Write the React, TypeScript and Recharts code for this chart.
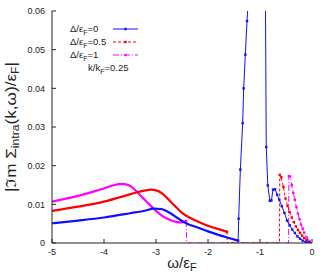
import React from "react"
import { LineChart, Line, XAxis, YAxis } from "recharts"

// x ticks / y ticks
const xTicks = [-5, -4, -3, -2, -1, 0]
const yTicks = [0, 0.01, 0.02, 0.03, 0.04, 0.05, 0.06]

// Δ/εF = 0 (blue)
const blueSmoothX = [-5, -4.5, -4, -3.5, -3.2, -3.05, -2.9, -2.8, -2.7, -2.6, -2.5, -2.4, -2.2, -2, -1.8, -1.6, -1.42]
const blueSmoothY = [0.0051, 0.0058, 0.0066, 0.0077, 0.0084, 0.0089, 0.0088, 0.0083, 0.0075, 0.0066, 0.0057, 0.005, 0.004, 0.003, 0.0021, 0.0013, 0.0006]
const bluePeakX = [-1.42, -1.41, -1.378, -1.333, -1.314, -1.282, -1.25, -1.2, -1.1, -1.0, -0.9, -0.88, -0.85, -0.81, -0.78, -0.75, -0.71, -0.67, -0.63, -0.58, -0.53, -0.48, -0.43, -0.38, -0.33, -0.28, -0.23, -0.18, -0.12, -0.06, 0]
const bluePeakY = [0.0006, 0.0063, 0.019, 0.031, 0.04, 0.0487, 0.0574, 0.068, 0.09, 0.1, 0.075, 0.0248, 0.0149, 0.0109, 0.011, 0.0138, 0.0139, 0.0125, 0.0112, 0.0095, 0.0078, 0.0058, 0.0046, 0.0035, 0.0026, 0.0017, 0.0011, 0.0006, 0.0003, 0.0001, 0]

// Δ/εF = 0.5 (red)
const redSmoothX = [-5, -4.5, -4, -3.6, -3.4, -3.2, -3.1, -3.0, -2.9, -2.8, -2.7, -2.6, -2.5, -2.3, -2.1, -1.9, -1.75, -1.635]
const redSmoothY = [0.0083, 0.0094, 0.0107, 0.0122, 0.013, 0.0136, 0.0138, 0.0136, 0.013, 0.0118, 0.0104, 0.0091, 0.0078, 0.0062, 0.005, 0.004, 0.0034, 0.0029]
const redEdgeX = [-1.635, -1.63, -0.625, -0.62, -0.59, -0.55, -0.51, -0.47, -0.43, -0.39, -0.35, -0.31, -0.27, -0.23, -0.19, -0.15, -0.1, -0.05, 0]
const redEdgeY = [0.0029, 0, 0, 0.0176, 0.017, 0.0145, 0.0115, 0.0096, 0.008, 0.0066, 0.0054, 0.0043, 0.0034, 0.0026, 0.0019, 0.0013, 0.0007, 0.0002, 0]

// Δ/εF = 1 (magenta)
const magSmoothX = [-5, -4.5, -4.2, -4, -3.8, -3.65, -3.5, -3.37, -3.25, -3.15, -3.0, -2.9, -2.8, -2.7, -2.6, -2.5, -2.42]
const magSmoothY = [0.0107, 0.0122, 0.0133, 0.0141, 0.015, 0.0153, 0.0148, 0.0133, 0.0116, 0.0103, 0.0083, 0.0072, 0.0064, 0.0058, 0.0054, 0.0053, 0.0057]
const magEdgeX = [-2.42, -2.41, -0.45, -0.445, -0.42, -0.39, -0.36, -0.33, -0.3, -0.27, -0.24, -0.21, -0.18, -0.15, -0.1, -0.05, 0]
const magEdgeY = [0.0057, 0, 0, 0.0173, 0.0172, 0.015, 0.013, 0.0112, 0.0093, 0.0076, 0.0061, 0.0048, 0.0037, 0.0027, 0.0014, 0.0005, 0]

const zip = (xs: number[], ys: number[]) => xs.map((x, i) => ({ x, y: ys[i] }))

const BLUE = "#1010ff"
const RED = "#ff0000"
const MAG = "#ff00ff"
const font = "'Liberation Sans', Arial, sans-serif"

const squareDot = (color: string) => (p: any) => {
  const { cx, cy, payload, index } = p
  if (cx == null || cy == null || payload.y <= 0) return <g key={index} />
  return <rect key={index} x={cx - 1.2} y={cy - 1.2} width={2.4} height={2.4} fill={color} />
}

const fmt = (v: number) => (v === 0 ? "0" : v.toFixed(2))

function Legend() {
  const rows = [
    { v: "0", color: BLUE, dash: undefined },
    { v: "0.5", color: RED, dash: "3 2" },
    { v: "1", color: MAG, dash: "6 2 1 2" },
  ]
  return (
    <g fontFamily={font} fontSize={9.5} fill="#222">
      {rows.map((r, i) => {
        const y = 32 + i * 13
        return (
          <g key={i}>
            <text x={70} y={y}>
              Δ/ε<tspan fontSize={7} dy={2.5}>F</tspan>
              <tspan dy={-2.5}>={r.v}</tspan>
            </text>
            <line x1={113} x2={138} y1={y - 3} y2={y - 3} stroke={r.color} strokeWidth={1} strokeDasharray={r.dash} />
            <rect x={124.3} y={y - 4.2} width={2.4} height={2.4} fill={r.color} />
          </g>
        )
      })}
      <text x={88} y={71}>
        k/k<tspan fontSize={7} dy={2.5}>F</tspan>
        <tspan dy={-2.5}>=0.25</tspan>
      </text>
    </g>
  )
}

export default function App() {
  return (
    <div style={{ position: "absolute", left: 0, top: 0, width: 327, height: 280, background: "#fff" }}>
      <LineChart width={327} height={280} margin={{ top: 11, right: 15, bottom: 0, left: 0 }}>
        <XAxis
          type="number"
          dataKey="x"
          domain={[-5, 0]}
          ticks={xTicks}
          allowDataOverflow
          height={37}
          tickSize={-4}
          tickMargin={10}
          stroke="#222"
          tick={{ fontSize: 9, fill: "#222", fontFamily: font }}
        />
        <XAxis
          xAxisId="top"
          orientation="top"
          type="number"
          dataKey="x"
          domain={[-5, 0]}
          ticks={xTicks}
          allowDataOverflow
          height={0}
          tickSize={-4}
          tick={false}
          stroke="#222"
        />
        <YAxis
          type="number"
          domain={[0, 0.06]}
          ticks={yTicks}
          allowDataOverflow
          width={52}
          tickSize={-4}
          tickMargin={11}
          tickFormatter={fmt}
          stroke="#222"
          tick={{ fontSize: 9, fill: "#222", fontFamily: font }}
        />
        <YAxis
          yAxisId="right"
          orientation="right"
          type="number"
          domain={[0, 0.06]}
          ticks={yTicks}
          allowDataOverflow
          width={0}
          tickSize={-4}
          tick={false}
          stroke="#222"
        />
        <Line data={zip(magEdgeX, magEdgeY)} dataKey="y" type="linear" stroke={MAG} strokeWidth={1} strokeDasharray="6 2 1 2" dot={squareDot(MAG)} isAnimationActive={false} />
        <Line data={zip(redEdgeX, redEdgeY)} dataKey="y" type="linear" stroke={RED} strokeWidth={1} strokeDasharray="3 2" dot={squareDot(RED)} isAnimationActive={false} />
        <Line data={zip(bluePeakX, bluePeakY)} dataKey="y" type="linear" stroke={BLUE} strokeWidth={1} dot={squareDot(BLUE)} isAnimationActive={false} />
        <Line data={zip(magSmoothX, magSmoothY)} dataKey="y" type="monotone" stroke={MAG} strokeWidth={2.2} dot={false} isAnimationActive={false} />
        <Line data={zip(redSmoothX, redSmoothY)} dataKey="y" type="monotone" stroke={RED} strokeWidth={2.2} dot={false} isAnimationActive={false} />
        <Line data={zip(blueSmoothX, blueSmoothY)} dataKey="y" type="monotone" stroke={BLUE} strokeWidth={2.2} dot={false} isAnimationActive={false} />
      </LineChart>
      <svg width={327} height={280} style={{ position: "absolute", left: 0, top: 0, pointerEvents: "none" }}>
        <Legend />
        <text x={182} y={268} textAnchor="middle" fontFamily={font} fontSize={15} fill="#222">
          ω/ε<tspan fontSize={11} dy={3}>F</tspan>
        </text>
        <text
          transform="translate(16,127) rotate(-90)"
          textAnchor="middle"
          fontFamily={font}
          fontSize={14}
          fill="#222"
          textLength={130}
          lengthAdjust="spacingAndGlyphs"
        >
          |ℑm Σ<tspan fontSize={10} dy={3}>intra</tspan>
          <tspan dy={-3}>(k,ω)/ε</tspan>
          <tspan fontSize={10} dy={3}>F</tspan>
          <tspan dy={-3}>|</tspan>
        </text>
      </svg>
    </div>
  )
}
